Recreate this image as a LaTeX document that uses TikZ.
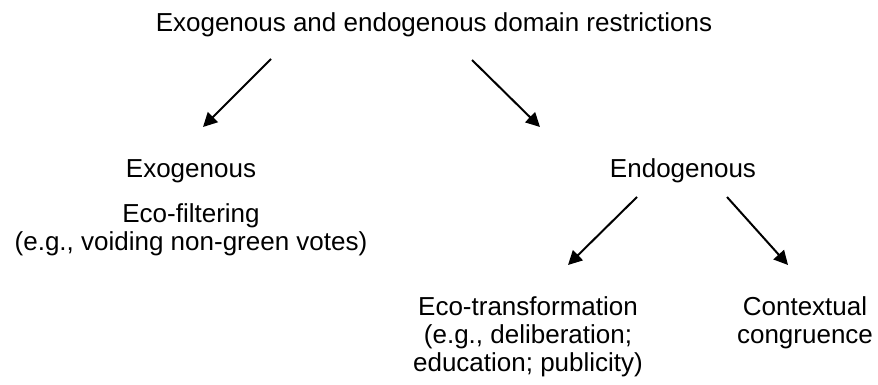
\documentclass[tikz,border=0pt]{standalone}
\usepackage{fontspec}
\setmainfont{Liberation Sans}
\usetikzlibrary{arrows.meta}
\begin{document}
\begin{tikzpicture}[x=1pt,y=-1pt,
  lbl/.style={inner sep=0pt, anchor=base, align=center,
    font=\fontsize{26}{28}\selectfont},
  arr/.style={line width=2pt, -{Triangle[length=14pt,width=14pt]}}]
\useasboundingbox (0,0) rectangle (878,385);

% texts (multi-line nodes are placed by the baseline of their last line)
\node[lbl] (title) at (434,31.7) {Exogenous and endogenous domain restrictions};
\node[lbl] (exo) at (191,178) {Exogenous};
\node[lbl] (filter) at (191,250) {Eco-filtering\\(e.g., voiding non-green votes)};
\node[lbl] (endo) at (683,178) {Endogenous};
\node[lbl] (transf) at (528,371) {Eco-transformation\\(e.g., deliberation;\\education; publicity)};
\node[lbl] (context) at (805,343) {Contextual\\congruence};

% arrow end points
\coordinate (a1s) at (271,59);
\coordinate (a1e) at (203,127);
\coordinate (a2s) at (472,60);
\coordinate (a2e) at (540,127);
\coordinate (a3s) at (637,197);
\coordinate (a3e) at (568,265);
\coordinate (a4s) at (727,197);
\coordinate (a4e) at (788,265);

% connectors
\draw[arr] (a1s) -- (a1e);
\draw[arr] (a2s) -- (a2e);
\draw[arr] (a3s) -- (a3e);
\draw[arr] (a4s) -- (a4e);
\end{tikzpicture}
\end{document}
